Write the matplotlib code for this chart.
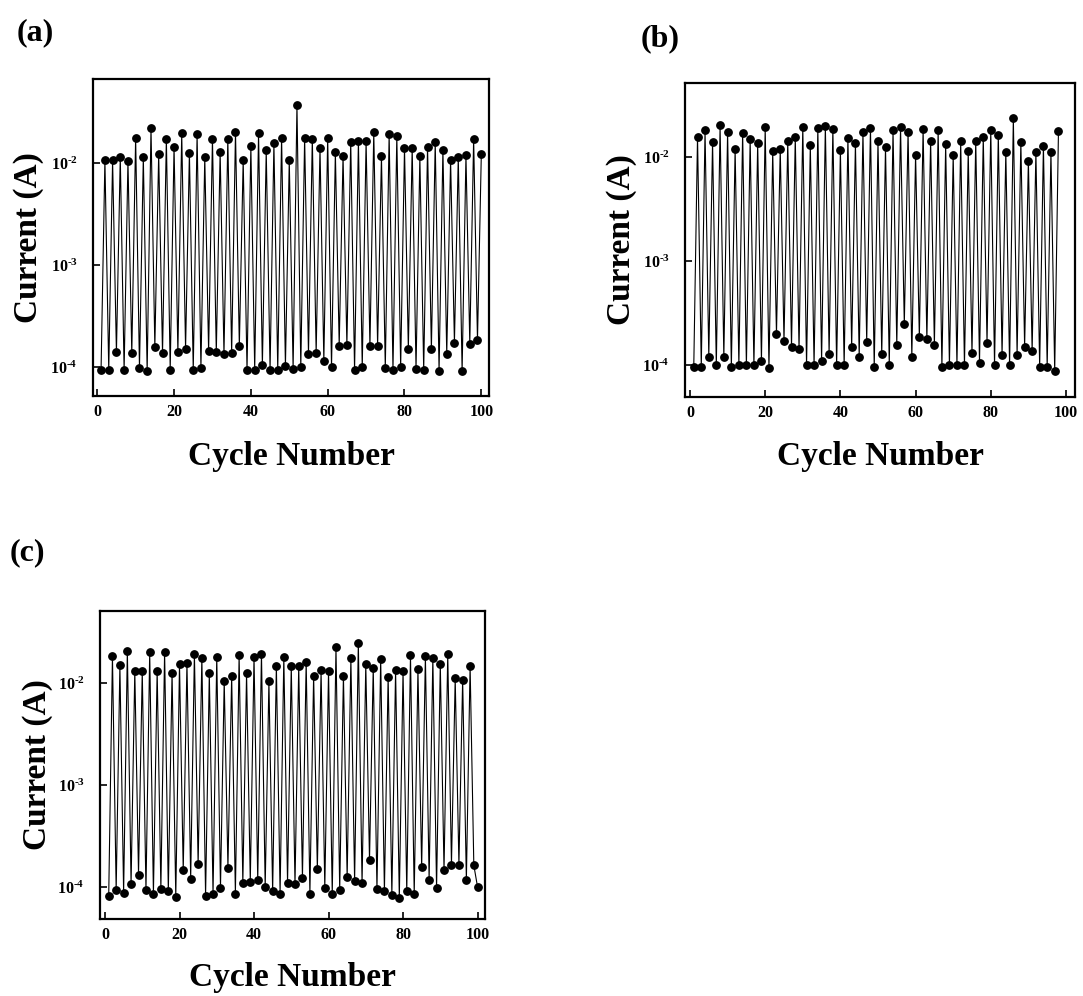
import math
import matplotlib
matplotlib.use("Agg")
import matplotlib.pyplot as plt
from matplotlib.ticker import FixedLocator, FuncFormatter, NullLocator

plt.rcParams['font.family'] = ['Liberation Serif', 'DejaVu Serif']
plt.rcParams['mathtext.fontset'] = 'custom'
plt.rcParams['mathtext.rm'] = 'Liberation Serif:bold'
plt.rcParams['mathtext.bf'] = 'Liberation Serif:bold'

# ---------------- data ----------------
current_a = [9.4e-5, 1.07e-2, 9.4e-5, 1.06e-2, 1.39e-4, 1.15e-2, 9.3e-5, 1.05e-2, 1.36e-4, 1.77e-2,
             9.8e-5, 1.14e-2, 9.1e-5, 2.22e-2, 1.57e-4, 1.22e-2, 1.36e-4, 1.74e-2, 9.4e-5, 1.45e-2,
             1.41e-4, 1.95e-2, 1.50e-4, 1.26e-2, 9.3e-5, 1.92e-2, 9.8e-5, 1.14e-2, 1.43e-4, 1.73e-2,
             1.39e-4, 1.29e-2, 1.33e-4, 1.74e-2, 1.36e-4, 2.03e-2, 1.60e-4, 1.07e-2, 9.4e-5, 1.46e-2,
             9.4e-5, 1.95e-2, 1.04e-4, 1.33e-2, 9.4e-5, 1.56e-2, 9.4e-5, 1.78e-2, 1.02e-4, 1.06e-2,
             9.6e-5, 3.73e-2, 1.00e-4, 1.77e-2, 1.34e-4, 1.74e-2, 1.38e-4, 1.41e-2, 1.15e-4, 1.78e-2,
             1.00e-4, 1.27e-2, 1.62e-4, 1.17e-2, 1.64e-4, 1.62e-2, 9.3e-5, 1.64e-2, 1.00e-4, 1.64e-2,
             1.59e-4, 2.00e-2, 1.62e-4, 1.16e-2, 9.8e-5, 1.92e-2, 9.3e-5, 1.85e-2, 1.00e-4, 1.41e-2,
             1.50e-4, 1.41e-2, 9.6e-5, 1.16e-2, 9.3e-5, 1.45e-2, 1.50e-4, 1.60e-2, 9.1e-5, 1.35e-2,
             1.34e-4, 1.07e-2, 1.74e-4, 1.14e-2, 9.1e-5, 1.19e-2, 1.69e-4, 1.72e-2, 1.84e-4, 1.23e-2]

current_b = [9.5e-5, 1.56e-2, 9.6e-5, 1.80e-2, 1.20e-4, 1.40e-2, 9.9e-5, 2.02e-2, 1.19e-4, 1.74e-2,
             9.5e-5, 1.20e-2, 9.9e-5, 1.72e-2, 9.9e-5, 1.48e-2, 9.9e-5, 1.36e-2, 1.09e-4, 1.93e-2,
             9.4e-5, 1.13e-2, 1.99e-4, 1.20e-2, 1.70e-4, 1.42e-2, 1.50e-4, 1.55e-2, 1.42e-4, 1.95e-2,
             1.00e-4, 1.30e-2, 9.9e-5, 1.89e-2, 1.09e-4, 1.99e-2, 1.28e-4, 1.88e-2, 9.9e-5, 1.16e-2,
             9.9e-5, 1.53e-2, 1.48e-4, 1.35e-2, 1.20e-4, 1.73e-2, 1.68e-4, 1.92e-2, 9.5e-5, 1.42e-2,
             1.27e-4, 1.25e-2, 1.01e-4, 1.80e-2, 1.56e-4, 1.93e-2, 2.47e-4, 1.74e-2, 1.19e-4, 1.05e-2,
             1.84e-4, 1.84e-2, 1.77e-4, 1.43e-2, 1.56e-4, 1.80e-2, 9.5e-5, 1.32e-2, 9.9e-5, 1.04e-2,
             9.9e-5, 1.42e-2, 9.9e-5, 1.13e-2, 1.30e-4, 1.44e-2, 1.05e-4, 1.56e-2, 1.64e-4, 1.82e-2,
             9.9e-5, 1.63e-2, 1.25e-4, 1.12e-2, 9.9e-5, 2.36e-2, 1.25e-4, 1.40e-2, 1.50e-4, 9.2e-3,
             1.37e-4, 1.12e-2, 9.6e-5, 1.29e-2, 9.6e-5, 1.12e-2, 8.75e-5, 1.77e-2]

current_c = [8.2e-5, 1.83e-2, 9.3e-5, 1.49e-2, 8.8e-5, 2.08e-2, 1.06e-4, 1.32e-2, 1.32e-4, 1.30e-2,
             9.3e-5, 2.00e-2, 8.6e-5, 1.32e-2, 9.6e-5, 2.03e-2, 9.1e-5, 1.26e-2, 8.0e-5, 1.52e-2,
             1.46e-4, 1.57e-2, 1.21e-4, 1.94e-2, 1.67e-4, 1.77e-2, 8.2e-5, 1.24e-2, 8.6e-5, 1.80e-2,
             9.8e-5, 1.05e-2, 1.55e-4, 1.16e-2, 8.6e-5, 1.88e-2, 1.10e-4, 1.24e-2, 1.12e-4, 1.81e-2,
             1.16e-4, 1.94e-2, 1.00e-4, 1.04e-2, 9.1e-5, 1.48e-2, 8.6e-5, 1.81e-2, 1.10e-4, 1.46e-2,
             1.06e-4, 1.46e-2, 1.23e-4, 1.62e-2, 8.6e-5, 1.18e-2, 1.49e-4, 1.33e-2, 9.8e-5, 1.31e-2,
             8.6e-5, 2.26e-2, 9.3e-5, 1.18e-2, 1.24e-4, 1.75e-2, 1.15e-4, 2.46e-2, 1.09e-4, 1.52e-2,
             1.83e-4, 1.41e-2, 9.5e-5, 1.73e-2, 9.1e-5, 1.15e-2, 8.4e-5, 1.34e-2, 7.8e-5, 1.31e-2,
             9.1e-5, 1.87e-2, 8.5e-5, 1.36e-2, 1.57e-4, 1.83e-2, 1.18e-4, 1.75e-2, 9.8e-5, 1.53e-2,
             1.46e-4, 1.91e-2, 1.66e-4, 1.11e-2, 1.66e-4, 1.08e-2, 1.18e-4, 1.48e-2, 1.63e-4, 1.00e-4]

cycles_a = list(range(1, len(current_a) + 1))
cycles_b = list(range(1, len(current_b) + 1))
cycles_c = list(range(1, len(current_c) + 1))

panel_labels = ['(a)', '(b)', '(c)']
x_ticks = [0, 20, 40, 60, 80, 100]
y_ticks = [1e-4, 1e-3, 1e-2]
x_label = 'Cycle Number'
y_label = 'Current (A)'

# ---------------- figure ----------------
W, H = 1083, 996
fig = plt.figure(figsize=(W / 100, H / 100), dpi=100)


def px_axes(left, top, right, bottom):
    return fig.add_axes([left / W, 1 - bottom / H, (right - left) / W, (bottom - top) / H])


def log_fmt(v, pos):
    exp = int(round(math.log10(v)))
    return r'$\mathbf{10^{\text{-}%d}}$' % abs(exp)


def style(ax, xlim, ylim):
    ax.set_yscale('log')
    ax.set_xlim(*xlim)
    ax.set_ylim(*ylim)
    ax.xaxis.set_major_locator(FixedLocator(x_ticks))
    ax.yaxis.set_major_locator(FixedLocator(y_ticks))
    ax.yaxis.set_minor_locator(NullLocator())
    ax.xaxis.set_minor_locator(NullLocator())
    ax.yaxis.set_major_formatter(FuncFormatter(log_fmt))
    ax.tick_params(axis='both', which='major', direction='in', length=5, width=1.2,
                   top=False, right=False)
    ax.tick_params(axis='x', pad=6, labelsize=11.5)
    ax.tick_params(axis='y', pad=11, labelsize=11.5)
    for lab in ax.get_xticklabels():
        lab.set_fontweight('bold')
    for sp in ax.spines.values():
        sp.set_linewidth(1.6)
    ax.set_xlabel(x_label, fontsize=24, fontweight='bold')
    ax.set_ylabel(y_label, fontsize=24, fontweight='bold')
    ax.xaxis.set_label_coords(0.5, -0.19)
    ax.xaxis.label.set_va('center')
    ax.yaxis.set_label_coords(-0.162, 0.5)
    ax.yaxis.label.set_va('center')


def draw(ax, x, y):
    ax.plot(x, y, color='black', lw=0.8, marker='o', markersize=5.3,
            markerfacecolor='black', markeredgecolor='black')


ax_a = px_axes(93, 79, 489, 396)
draw(ax_a, cycles_a, current_a)
style(ax_a, (-1.1, 102), (5.2e-5, 6.67e-2))

ax_b = px_axes(685, 83, 1075, 397)
draw(ax_b, cycles_b, current_b)
style(ax_b, (-1.33, 102.4), (4.92e-5, 5.15e-2))

ax_c = px_axes(100, 611, 485, 919)
draw(ax_c, cycles_c, current_c)
style(ax_c, (-1.34, 102), (4.85e-5, 5.08e-2))

for lab, (px, py) in zip(panel_labels, [(35, 33), (660, 39), (27, 553)]):
    fig.text(px / W, 1 - py / H, lab, fontsize=23, fontweight='bold',
             ha='center', va='center')

fig.savefig('out.png', dpi=100)
